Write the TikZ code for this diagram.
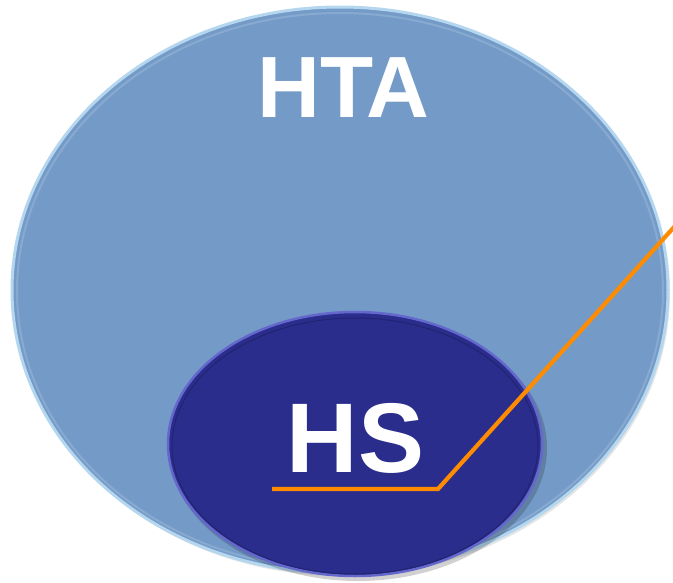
\documentclass[tikz,border=0pt]{standalone}
\usepackage{fontspec}
\setmainfont{Liberation Sans}
\usetikzlibrary{shapes.geometric}
\definecolor{bigfill}{HTML}{749BC8}
\definecolor{bigrim}{HTML}{B4D6EE}
\definecolor{smallfill}{HTML}{2A2D8C}
\definecolor{smallrim}{HTML}{6468CC}
\definecolor{linkorange}{HTML}{FF8C00}
\tikzset{
  blob/.style={ellipse, inner sep=0pt},
  bigtext/.style={text=white, font=\bfseries\fontsize{87}{87}\selectfont},
  smalltext/.style={text=white, font=\bfseries\fontsize{99}{99}\selectfont},
  link/.style={draw=linkorange, line width=4.2pt}
}
\begin{document}
\begin{tikzpicture}[x=1pt,y=-1pt]
\useasboundingbox (0,0) rectangle (673,582);
% big ellipse
\node[blob, fill=gray!40, opacity=0.5, minimum width=656pt, minimum height=566pt] at (342,293) {};
\node[blob, fill=bigfill, draw=bigrim, line width=3pt, minimum width=656pt, minimum height=566pt] (hta) at (340,290) {};
\node[blob, draw=bigfill!85!white, line width=2pt, minimum width=646pt, minimum height=556pt] at (340,291) {};
% small ellipse shadow
\node[blob, fill=black, opacity=0.18, minimum width=378pt, minimum height=266pt] at (358,448) {};
\node[blob, fill=smallfill, draw=smallrim, line width=2.5pt, minimum width=374pt, minimum height=264pt] (hs) at (355,444) {};
\node[blob, draw=smallfill!80!black, line width=1pt, minimum width=366pt, minimum height=256pt] at (355,446) {};
% texts
\node[bigtext] (htalabel) at (343.5,88) {HTA};
\node[smalltext] (hslabel) at (355.5,438) {HS};
% orange connector
\coordinate (lstart) at (272,489);
\coordinate (lbend) at (438,489);
\coordinate (lend) at (675,226);
\draw[link] (lstart) -- (lbend) -- (lend);
\end{tikzpicture}
\end{document}
